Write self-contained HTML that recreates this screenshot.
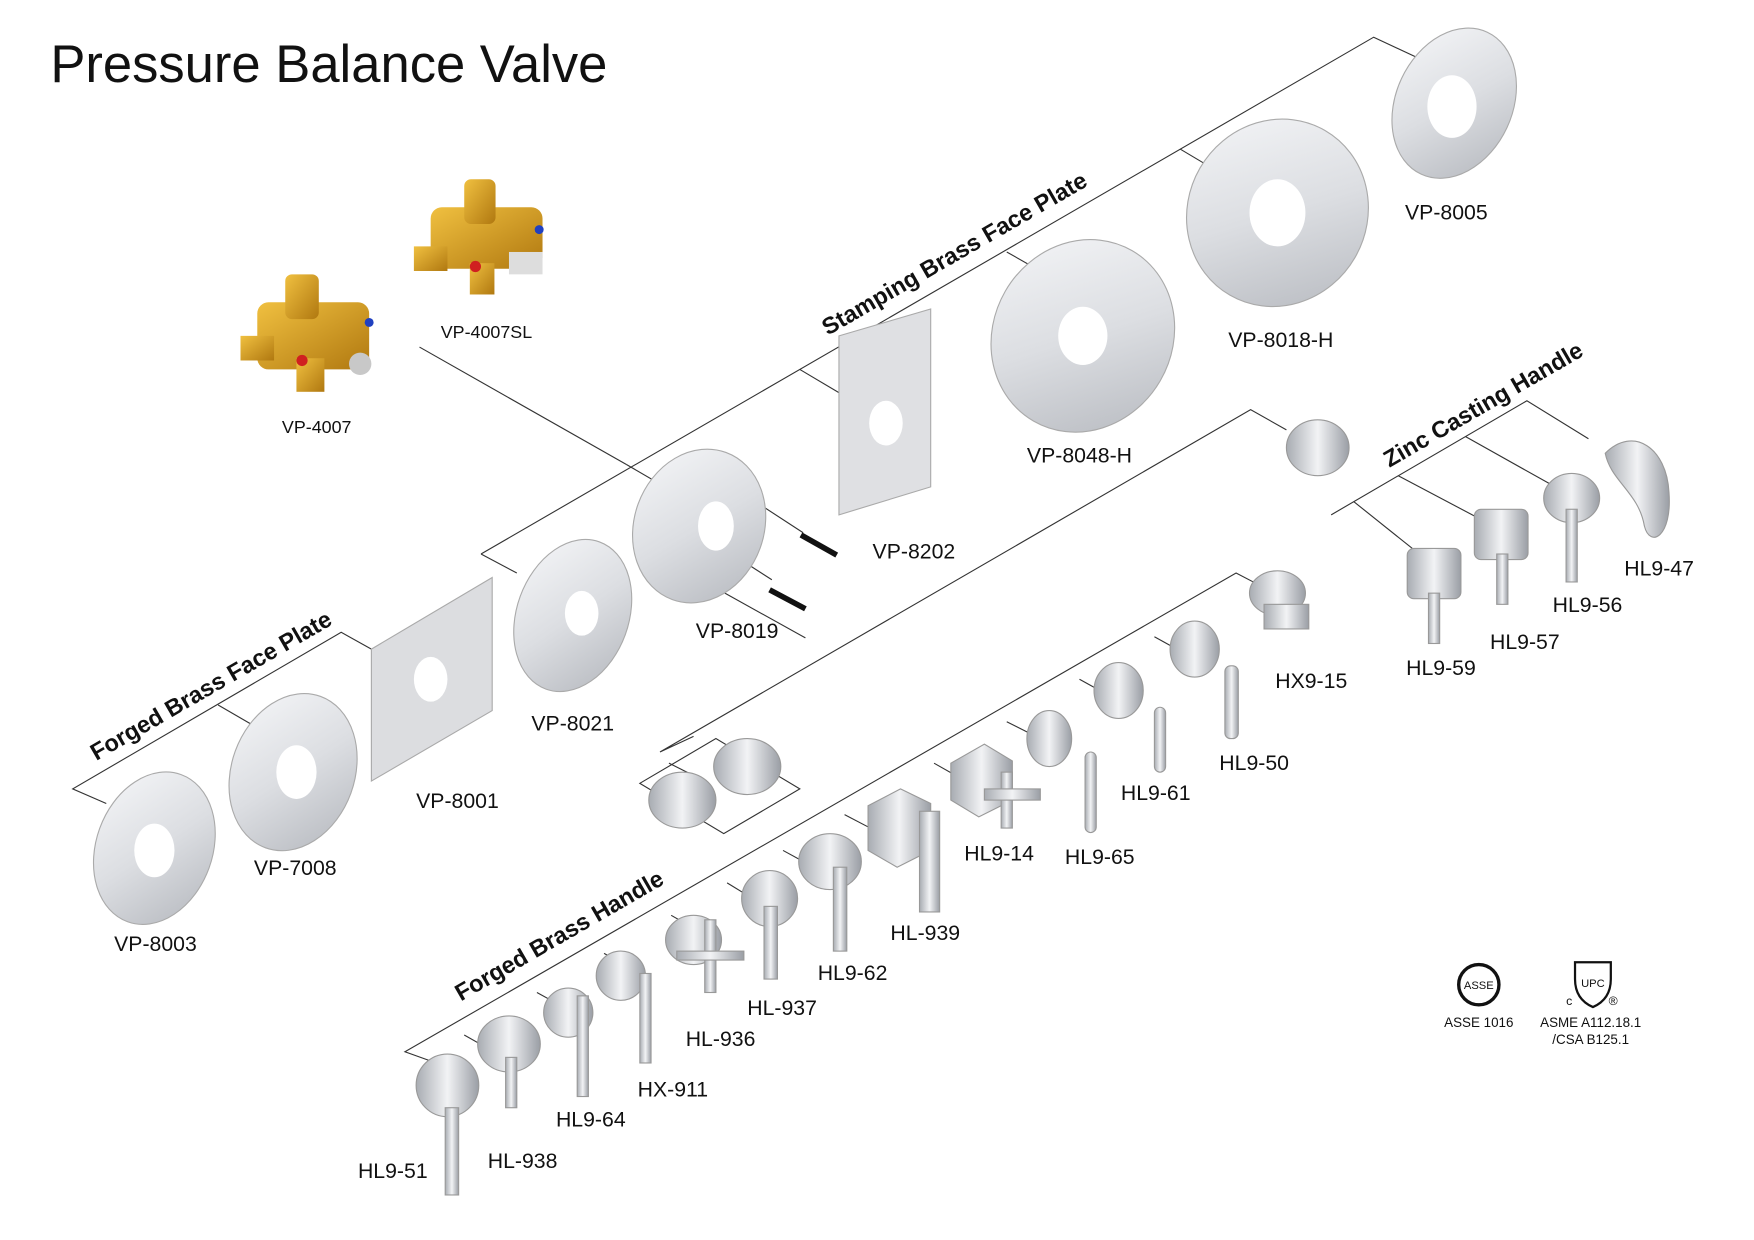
<!DOCTYPE html>
<html><head><meta charset="utf-8"><style>
html,body{margin:0;padding:0;background:#fff}
svg{display:block}
text{font-family:"Liberation Sans",Arial,sans-serif;fill:#111}
</style></head><body>
<svg width="1754" height="1240" viewBox="0 0 1568 1108" xmlns="http://www.w3.org/2000/svg">
<defs>
<linearGradient id="g" x1="0" y1="0" x2="1" y2="1"><stop offset="0" stop-color="#f6f7f9"/><stop offset="0.5" stop-color="#dcdee2"/><stop offset="1" stop-color="#b4b7bd"/></linearGradient>
<linearGradient id="g2" x1="0" y1="0" x2="1" y2="0"><stop offset="0" stop-color="#a8acb2"/><stop offset="0.5" stop-color="#f2f3f5"/><stop offset="1" stop-color="#9a9ea5"/></linearGradient>
<linearGradient id="b" x1="0" y1="0" x2="1" y2="1"><stop offset="0" stop-color="#f0c040"/><stop offset="1" stop-color="#b07810"/></linearGradient>
</defs>
<text x="45" y="73" font-size="47">Pressure Balance Valve</text>

<g stroke="#333" stroke-width="1" fill="none">
<polyline points="430,495 1228,33 1290,62"/>
<line x1="1055" y1="133" x2="1092" y2="155"/>
<line x1="900" y1="225" x2="937" y2="246"/>
<line x1="715" y1="330" x2="752" y2="352"/>
<line x1="430" y1="495" x2="462" y2="512"/>
<line x1="375" y1="310" x2="560" y2="415"/>
<line x1="560" y1="415" x2="603" y2="440"/>
<line x1="648" y1="530" x2="720" y2="570"/>
<line x1="672" y1="446" x2="718" y2="476"/>
<line x1="662" y1="500" x2="690" y2="518"/>
<polyline points="95,718 65,705 305,565 332,580"/>
<line x1="195" y1="630" x2="226" y2="648"/>
<polyline points="620,658 590,672 1118,366 1150,384"/>
<polygon points="572,700 640,660 715,705 647,745"/>
<line x1="598" y1="682" x2="618" y2="692"/>
<polyline points="390,950 362,940 1105,512 1130,525"/>
<line x1="415" y1="925" x2="438" y2="938"/>
<line x1="480" y1="887" x2="500" y2="898"/>
<line x1="540" y1="852" x2="558" y2="862"/>
<line x1="600" y1="818" x2="614" y2="826"/>
<line x1="650" y1="789" x2="668" y2="800"/>
<line x1="700" y1="760" x2="722" y2="772"/>
<line x1="755" y1="728" x2="778" y2="740"/>
<line x1="835" y1="682" x2="858" y2="695"/>
<line x1="900" y1="645" x2="920" y2="655"/>
<line x1="965" y1="607" x2="985" y2="618"/>
<line x1="1032" y1="569" x2="1052" y2="580"/>
<polyline points="1190,460 1365,358 1420,392"/>
<line x1="1210" y1="448" x2="1275" y2="500"/>
<line x1="1250" y1="425" x2="1335" y2="470"/>
<line x1="1310" y1="390" x2="1385" y2="432"/>
</g>

<g>
<rect x="230" y="270" width="100" height="60" rx="10" fill="url(#b)"/>
<rect x="255" y="245" width="30" height="40" rx="6" fill="url(#b)"/>
<rect x="265" y="320" width="25" height="30" fill="url(#b)"/>
<rect x="215" y="300" width="30" height="22" fill="url(#b)"/>
<circle cx="322" cy="325" r="10" fill="#c8c8c8"/><circle cx="270" cy="322" r="5" fill="#d02020"/><circle cx="330" cy="288" r="4" fill="#2040c0"/>
<rect x="385" y="185" width="100" height="55" rx="10" fill="url(#b)"/>
<rect x="415" y="160" width="28" height="40" rx="6" fill="url(#b)"/>
<rect x="370" y="220" width="30" height="22" fill="url(#b)"/>
<rect x="420" y="235" width="22" height="28" fill="url(#b)"/>
<rect x="455" y="225" width="30" height="20" fill="#ddd"/><circle cx="425" cy="238" r="5" fill="#d02020"/><circle cx="482" cy="205" r="4" fill="#2040c0"/>
</g>

<g stroke="#aaa" stroke-width="1">
<ellipse cx="1300" cy="92" rx="52" ry="70" transform="rotate(25 1300 92)" fill="url(#g)"/>
<ellipse cx="1142" cy="190" rx="80" ry="85" transform="rotate(30 1142 190)" fill="url(#g)"/>
<ellipse cx="968" cy="300" rx="80" ry="88" transform="rotate(30 968 300)" fill="url(#g)"/>
<polygon points="750,300 832,276 832,435 750,460" fill="#dfe0e3"/>
<ellipse cx="625" cy="470" rx="58" ry="70" transform="rotate(20 625 470)" fill="url(#g)"/>
<ellipse cx="512" cy="550" rx="50" ry="70" transform="rotate(20 512 550)" fill="url(#g)"/>
<polygon points="332,580 440,516 440,635 332,698" fill="#dcdde0"/>
<ellipse cx="262" cy="690" rx="55" ry="72" transform="rotate(20 262 690)" fill="url(#g)"/>
<ellipse cx="138" cy="758" rx="52" ry="70" transform="rotate(20 138 758)" fill="url(#g)"/>
</g>
<g fill="#fff">
<ellipse cx="1298" cy="95" rx="22" ry="28"/><ellipse cx="1142" cy="190" rx="25" ry="30"/><ellipse cx="968" cy="300" rx="22" ry="26"/>
<ellipse cx="792" cy="378" rx="15" ry="20"/><ellipse cx="640" cy="470" rx="16" ry="22"/><ellipse cx="520" cy="548" rx="15" ry="20"/>
<ellipse cx="385" cy="607" rx="15" ry="20"/><ellipse cx="265" cy="690" rx="18" ry="24"/><ellipse cx="138" cy="760" rx="18" ry="24"/>
</g>
<g stroke="#111" stroke-width="5"><line x1="716" y1="478" x2="748" y2="496"/><line x1="688" y1="527" x2="720" y2="544"/></g>

<g stroke="#999" stroke-width="1" fill="url(#g2)">
<ellipse cx="1178" cy="400" rx="28" ry="25"/>
<rect x="1258" y="490" width="48" height="45" rx="6"/><rect x="1277" y="530" width="10" height="45"/>
<rect x="1318" y="455" width="48" height="45" rx="6"/><rect x="1338" y="495" width="10" height="45"/>
<ellipse cx="1405" cy="445" rx="25" ry="22"/><rect x="1400" y="455" width="10" height="65"/>
<path d="M1435,405 C1460,380 1490,400 1492,440 C1495,480 1475,490 1470,470 C1465,440 1440,430 1435,405Z"/>
<ellipse cx="1142" cy="530" rx="25" ry="20"/><rect x="1130" y="540" width="40" height="22"/>
<ellipse cx="1068" cy="580" rx="22" ry="25"/><rect x="1095" y="595" width="12" height="65" rx="5"/>
<ellipse cx="1000" cy="617" rx="22" ry="25"/><rect x="1032" y="632" width="10" height="58" rx="5"/>
<ellipse cx="938" cy="660" rx="20" ry="25"/><rect x="970" y="672" width="10" height="72" rx="5"/>
<polygon points="850,682 880,665 905,680 905,715 875,730 850,715"/><rect x="895" y="690" width="10" height="50"/><rect x="880" y="705" width="50" height="10"/>
<polygon points="776,720 805,705 832,718 832,760 802,775 776,760"/><rect x="822" y="725" width="18" height="90"/>
<ellipse cx="742" cy="770" rx="28" ry="25"/><rect x="745" y="775" width="12" height="75"/>
<ellipse cx="688" cy="803" rx="25" ry="25"/><rect x="683" y="810" width="12" height="65"/>
<ellipse cx="620" cy="840" rx="25" ry="22"/><rect x="630" y="822" width="10" height="65"/><rect x="605" y="850" width="60" height="8"/>
<ellipse cx="555" cy="872" rx="22" ry="22"/><rect x="572" y="870" width="10" height="80"/>
<ellipse cx="508" cy="905" rx="22" ry="22"/><rect x="516" y="890" width="10" height="90"/>
<ellipse cx="455" cy="933" rx="28" ry="25"/><rect x="452" y="945" width="10" height="45"/>
<ellipse cx="400" cy="970" rx="28" ry="28"/><rect x="398" y="990" width="12" height="78"/>
<ellipse cx="668" cy="685" rx="30" ry="25"/><ellipse cx="610" cy="715" rx="30" ry="25"/>
</g>

<circle cx="1322" cy="880" r="18" fill="none" stroke="#111" stroke-width="3"/>
<text x="1322" y="884" font-size="10" text-anchor="middle">ASSE</text>
<path d="M1408,860 h32 v15 q0,18 -16,25 q-16,-7 -16,-25z" fill="none" stroke="#111" stroke-width="2"/>
<text x="1424" y="882" font-size="10" text-anchor="middle">UPC</text>
<text x="1400" y="898" font-size="11">c</text><text x="1438" y="898" font-size="11">®</text>
<g font-size="12" text-anchor="middle">
<text x="1322" y="918">ASSE 1016</text><text x="1422" y="918">ASME A112.18.1</text><text x="1422" y="933">/CSA B125.1</text>
</g>

<g font-size="19">
<text x="1256" y="196">VP-8005</text><text x="1098" y="310">VP-8018-H</text><text x="918" y="413">VP-8048-H</text>
<text x="780" y="499">VP-8202</text><text x="622" y="570">VP-8019</text><text x="475" y="653">VP-8021</text>
<text x="372" y="722">VP-8001</text><text x="227" y="782">VP-7008</text><text x="102" y="850">VP-8003</text>
<text x="1452" y="514">HL9-47</text><text x="1388" y="547">HL9-56</text><text x="1332" y="580">HL9-57</text><text x="1257" y="603">HL9-59</text>
<text x="1140" y="615">HX9-15</text><text x="1090" y="688">HL9-50</text><text x="1002" y="715">HL9-61</text>
<text x="952" y="772">HL9-65</text><text x="862" y="769">HL9-14</text><text x="796" y="840">HL-939</text>
<text x="731" y="876">HL9-62</text><text x="668" y="907">HL-937</text><text x="613" y="935">HL-936</text>
<text x="570" y="980">HX-911</text><text x="497" y="1007">HL9-64</text><text x="436" y="1044">HL-938</text><text x="320" y="1053">HL9-51</text>
</g>
<g font-size="16"><text x="252" y="387">VP-4007</text><text x="394" y="302">VP-4007SL</text></g>
<g font-size="21" font-weight="bold">
<text transform="translate(740,300) rotate(-30)">Stamping Brass Face Plate</text>
<text transform="translate(86,680) rotate(-30)">Forged Brass Face Plate</text>
<text transform="translate(1242,418) rotate(-30)">Zinc Casting Handle</text>
<text transform="translate(412,895) rotate(-30)">Forged Brass Handle</text>
</g>
</svg>
</body></html>
